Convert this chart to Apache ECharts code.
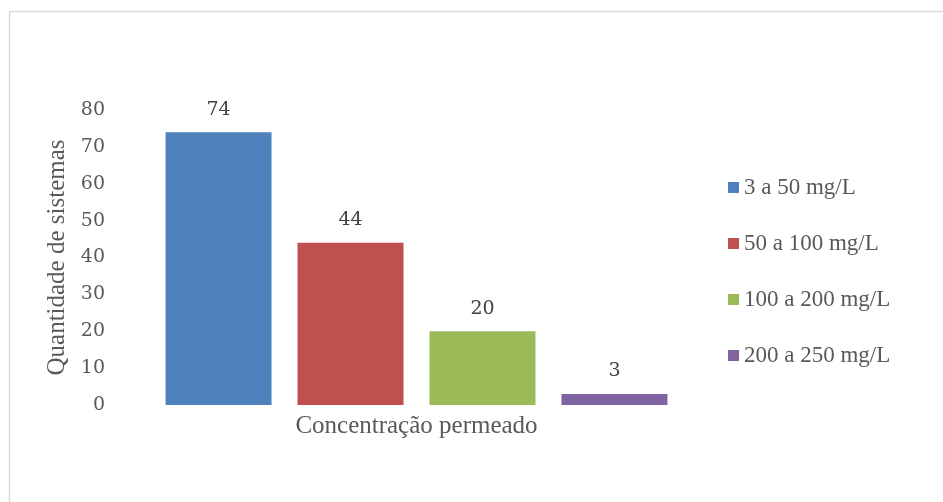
<!DOCTYPE html>
<html>
<head>
<meta charset="utf-8">
<style>
  html, body { margin: 0; padding: 0; background: #ffffff; }
  #chart { width: 943px; height: 502px; }
</style>
<script src="https://cdn.jsdelivr.net/npm/echarts@6/dist/echarts.min.js"></script>
</head>
<body>
<div id="chart"></div>
<script>
// Concentration ranges (one bar each) and the number of systems in each
const seriesNames = ['3 a 50 mg/L', '50 a 100 mg/L', '100 a 200 mg/L', '200 a 250 mg/L'];
const seriesValues = [74, 44, 20, 3];
const seriesColors = ['#4f81bd', '#c0504d', '#9bbb59', '#8064a2'];
const categories = ['Concentração permeado'];
const yTicks = [0, 10, 20, 30, 40, 50, 60, 70, 80];

const serif = '"Liberation Serif", "Times New Roman", serif';
const numFont = '"DejaVu Serif", "Liberation Serif", serif';

const chart = echarts.init(document.getElementById('chart'), null, { renderer: 'canvas' });

const series = seriesNames.map((name, i) => ({
  name: name,
  type: 'bar',
  data: [seriesValues[i]],
  barWidth: 106,
  barGap: '24.5%',
  itemStyle: { color: seriesColors[i] },
  label: {
    show: true,
    position: 'top',
    distance: 13,
    color: '#404040',
    fontFamily: numFont,
    fontSize: 19
  }
}));

chart.setOption({
  animation: false,
  backgroundColor: '#ffffff',
  graphic: [{
    type: 'rect',
    shape: { x: 9.5, y: 11.5, width: 1000, height: 600 },
    style: { fill: 'none', stroke: '#d9d9d9', lineWidth: 1.5 },
    silent: true
  }],
  grid: { left: 140, right: 250, top: 110, bottom: 97 },
  legend: {
    orient: 'vertical',
    left: 728,
    top: 176,
    padding: 0,
    itemWidth: 11,
    itemHeight: 11,
    itemGap: 33,
    icon: 'rect',
    textStyle: { color: '#595959', fontFamily: serif, fontSize: 23, lineHeight: 22 },
    data: seriesNames
  },
  xAxis: {
    type: 'category',
    data: categories,
    axisLine: { show: false },
    axisTick: { show: false },
    axisLabel: {
      show: true,
      color: '#595959',
      fontFamily: serif,
      fontSize: 25,
      margin: 9
    }
  },
  yAxis: {
    type: 'value',
    min: yTicks[0],
    max: yTicks[yTicks.length - 1],
    interval: 10,
    name: 'Quantidade de sistemas',
    nameLocation: 'middle',
    nameGap: 70,
    nameRotate: 90,
    nameTextStyle: { color: '#595959', fontFamily: serif, fontSize: 25 },
    axisLine: { show: false },
    axisTick: { show: false },
    splitLine: { show: false },
    axisLabel: {
      color: '#595959',
      fontFamily: numFont,
      fontSize: 19,
      margin: 35
    }
  },
  series: series
});
</script>
</body>
</html>
